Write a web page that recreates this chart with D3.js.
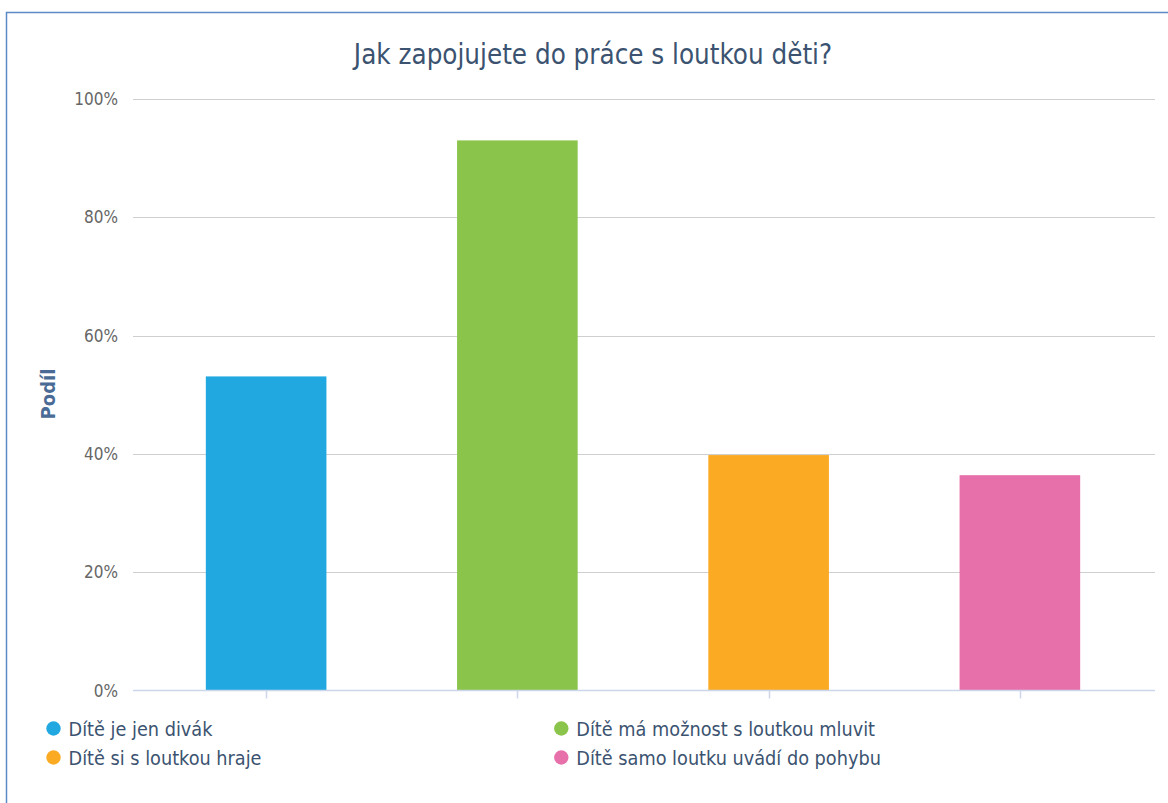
<!DOCTYPE html>
<html><head><meta charset="utf-8">
<script src="https://cdn.jsdelivr.net/npm/d3@7"></script>
<style>body{margin:0;background:#fff}svg{display:block}
text{font-family:'DejaVu Sans Condensed','DejaVu Sans',sans-serif}</style>
</head><body>
<script>
const title = "Jak zapojujete do práce s loutkou děti?";
const categories = ["Dítě je jen divák","Dítě má možnost s loutkou mluvit","Dítě si s loutkou hraje","Dítě samo loutku uvádí do pohybu"];
const values = [0.531, 0.930, 0.398, 0.364];
const colors = ["#21a8e0","#8ac44a","#fbaa23","#e76faa"];
const yTicks = [0,0.2,0.4,0.6,0.8,1.0];
const yTitle = "Podíl";

const W=1168,H=803;
const svg=d3.select("body").append("svg").attr("width",W).attr("height",H);
svg.append("rect").attr("x",6.5).attr("y",12.5).attr("width",W).attr("height",H).attr("fill","#fff").attr("stroke","#5b8ac6").attr("stroke-width",1.5);

const x0=133,x1=1155,yTop=99,yBot=690.5;
const y=d3.scaleLinear().domain([0,1]).range([yBot,yTop]);
const xb=d3.scaleBand().domain(categories).range([140.5,1145.5]).padding(0);
const barW=xb.bandwidth()*0.48;

svg.append("g").selectAll("line").data(yTicks.filter(d=>d>0)).join("line")
 .attr("x1",x0).attr("x2",x1).attr("y1",d=>Math.round(y(d))+0.5).attr("y2",d=>Math.round(y(d))+0.5)
 .attr("stroke","#cfcfcf").attr("stroke-width",1);
svg.append("g").selectAll("text").data(yTicks).join("text")
 .attr("x",118).attr("y",d=>y(d)+6).attr("text-anchor","end")
 .style("font-size","17px").attr("fill","#666")
 .text(d3.format(".0%"));
svg.append("g").selectAll("rect").data(categories).join("rect")
 .attr("x",(d)=>xb(d)+xb.bandwidth()/2-barW/2).attr("width",barW)
 .attr("y",(d,i)=>y(values[i])).attr("height",(d,i)=>yBot-y(values[i]))
 .attr("fill",(d,i)=>colors[i]);
svg.append("line").attr("x1",x0).attr("x2",x1).attr("y1",yBot).attr("y2",yBot).attr("stroke","#ccd6eb").attr("stroke-width",1.5);
svg.append("g").selectAll("line").data(categories).join("line")
 .attr("x1",d=>Math.round(xb(d)+xb.bandwidth()/2)+0.5).attr("x2",d=>Math.round(xb(d)+xb.bandwidth()/2)+0.5)
 .attr("y1",yBot).attr("y2",yBot+8).attr("stroke","#ccd6eb").attr("stroke-width",1.5);
svg.append("text").attr("x",593).attr("y",64).attr("text-anchor","middle")
 .style("font-size","27.5px").attr("fill","#3b5370").text(title);
svg.append("text").attr("transform","translate(55,394) rotate(-90)").attr("text-anchor","middle")
 .style("font-weight","bold").style("font-size","20px").attr("fill","#4a6b95").text(yTitle);
const legPos=[[53.5,728.5],[561.3,728.5],[53.5,757.5],[561.3,757.5]];
const order=[0,1,2,3];
const lg=svg.append("g").selectAll("g").data(order).join("g")
 .attr("transform",(d,i)=>`translate(${legPos[i][0]},${legPos[i][1]})`);
lg.append("circle").attr("r",7.2).attr("fill",d=>colors[d]);
lg.append("text").attr("x",15).attr("y",7.5).style("font-size","19.7px")
 .attr("fill","#3b5370").text(d=>categories[d]);
</script>
</body></html>
